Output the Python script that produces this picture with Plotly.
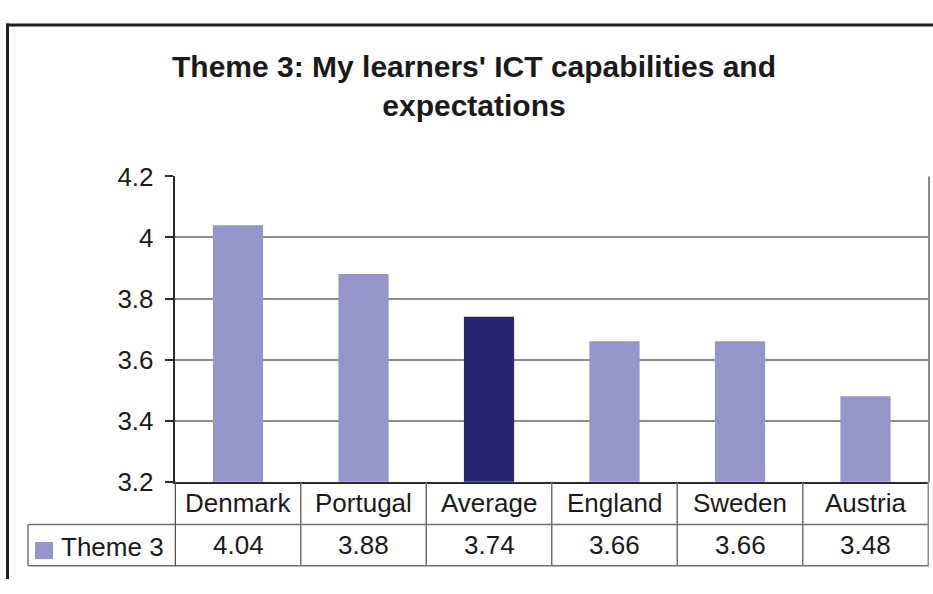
import plotly.graph_objects as go

categories = ["Denmark", "Portugal", "Average", "England", "Sweden", "Austria"]
values = [4.04, 3.88, 3.74, 3.66, 3.66, 3.48]
series_name = "Theme 3"
bar_colors = ["#9595C9", "#9595C9", "#262673", "#9595C9", "#9595C9", "#9595C9"]
tick_vals = [3.2, 3.4, 3.6, 3.8, 4.0, 4.2]
tick_labels = ["3.2", "3.4", "3.6", "3.8", "4", "4.2"]
title_text = "Theme 3: My learners' ICT capabilities and<br>expectations"

W, H = 933, 594
FONT = "Liberation Sans, Arial, sans-serif"
TXT = 26


def px(x):
    return x / W


def py(y):
    return 1 - y / H


plot_left, plot_right, plot_top, plot_bottom = 174.5, 929, 170, 491.5
row1_bottom, row2_bottom = 536.5, 580
legend_left = 28

fig = go.Figure()
fig.add_trace(go.Bar(
    x=categories, y=values, name=series_name,
    marker=dict(color=bar_colors, line=dict(width=0)),
    width=0.4, showlegend=False, hoverinfo="x+y",
))

shapes = []
grid_col = "#8a8a8a"
dark = "#2a2a2a"
# outer chart border (left and top edges visible in the frame)
shapes.append(dict(type="line", xref="paper", yref="paper",
                   x0=px(7.5), x1=px(7.5), y0=py(9), y1=0,
                   line=dict(color="#1e1e1e", width=3)))
shapes.append(dict(type="line", xref="paper", yref="paper",
                   x0=px(6), x1=1, y0=py(10.5), y1=py(10.5),
                   line=dict(color="#1e1e1e", width=3)))
# right border of plot area
shapes.append(dict(type="line", xref="paper", yref="paper",
                   x0=px(plot_right), x1=px(plot_right), y0=py(plot_top), y1=py(plot_bottom),
                   line=dict(color=grid_col, width=2)))
# table horizontal lines
for yy in (row1_bottom, row2_bottom):
    shapes.append(dict(type="line", xref="paper", yref="paper",
                       x0=px(legend_left), x1=px(plot_right), y0=py(yy), y1=py(yy),
                       line=dict(color="#707070", width=1.5)))
# table vertical lines at category boundaries
n = len(categories)
for k in range(n + 1):
    shapes.append(dict(type="line", xref="x", yref="paper",
                       x0=k - 0.5, x1=k - 0.5, y0=py(plot_bottom), y1=py(row2_bottom),
                       line=dict(color="#707070" if 0 < k < n else ("#505050" if k == 0 else grid_col), width=1.5)))
# legend cell left border
shapes.append(dict(type="line", xref="paper", yref="paper",
                   x0=px(legend_left), x1=px(legend_left), y0=py(row1_bottom), y1=py(row2_bottom),
                   line=dict(color="#707070", width=1.5)))
# legend key square
shapes.append(dict(type="rect", xref="paper", yref="paper",
                   x0=px(35), x1=px(53), y0=py(555), y1=py(573),
                   line=dict(width=0), fillcolor=bar_colors[0]))

annotations = []
for c, v in zip(categories, values):
    annotations.append(dict(x=c, xref="x", y=py((plot_bottom + row1_bottom) / 2), yref="paper",
                            text=c, showarrow=False, xanchor="center", yanchor="middle",
                            font=dict(family=FONT, size=TXT, color="#1a1a1a")))
    annotations.append(dict(x=c, xref="x", y=py((row1_bottom + row2_bottom) / 2), yref="paper",
                            text=f"{v:.2f}", showarrow=False, xanchor="center", yanchor="middle",
                            font=dict(family=FONT, size=TXT, color="#1a1a1a")))
annotations.append(dict(x=px(59), xref="paper", y=py((row1_bottom + row2_bottom) / 2 + 2), yref="paper",
                        text=series_name, showarrow=False, xanchor="left", yanchor="middle",
                        font=dict(family=FONT, size=TXT, color="#1a1a1a")))
annotations.append(dict(x=px(474), xref="paper", y=py(35), yref="paper",
                        text="<b>" + title_text.replace("<br>", "</b><br><b>") + "</b>",
                        showarrow=False, xanchor="center", yanchor="top", align="center",
                        font=dict(family=FONT, size=30, color="#1a1a1a")))

fig.update_layout(
    autosize=True,
    margin=dict(l=0, r=0, t=0, b=0, pad=0),
    paper_bgcolor="white", plot_bgcolor="white",
    shapes=shapes, annotations=annotations,
    bargap=0.6,
    xaxis=dict(domain=[px(plot_left), px(plot_right)], showticklabels=False,
               showgrid=False, showline=True, linecolor=dark, linewidth=1.5,
               ticks="", zeroline=False, fixedrange=True),
    yaxis=dict(domain=[py(plot_bottom), py(plot_top)], range=[3.2, 4.2],
               tickvals=tick_vals, ticktext=tick_labels,
               showgrid=True, gridcolor=grid_col, gridwidth=2,
               showline=True, linecolor=dark, linewidth=1.5,
               ticks="outside", ticklen=8, tickcolor=dark, tickwidth=1.5,
               ticklabelstandoff=6,
               tickfont=dict(family=FONT, size=TXT, color="#1a1a1a"),
               zeroline=False, fixedrange=True),
    font=dict(family=FONT),
)

fig.write_html(
    "out.html",
    default_width="100vw",
    default_height="100vh",
    config={"displayModeBar": False, "responsive": True},
    post_script=(
        "document.documentElement.style.margin='0';"
        "document.body.style.margin='0';"
        "document.body.style.overflow='hidden';"
        "Plotly.Plots.resize(document.getElementById('{plot_id}'));"
    ),
)
